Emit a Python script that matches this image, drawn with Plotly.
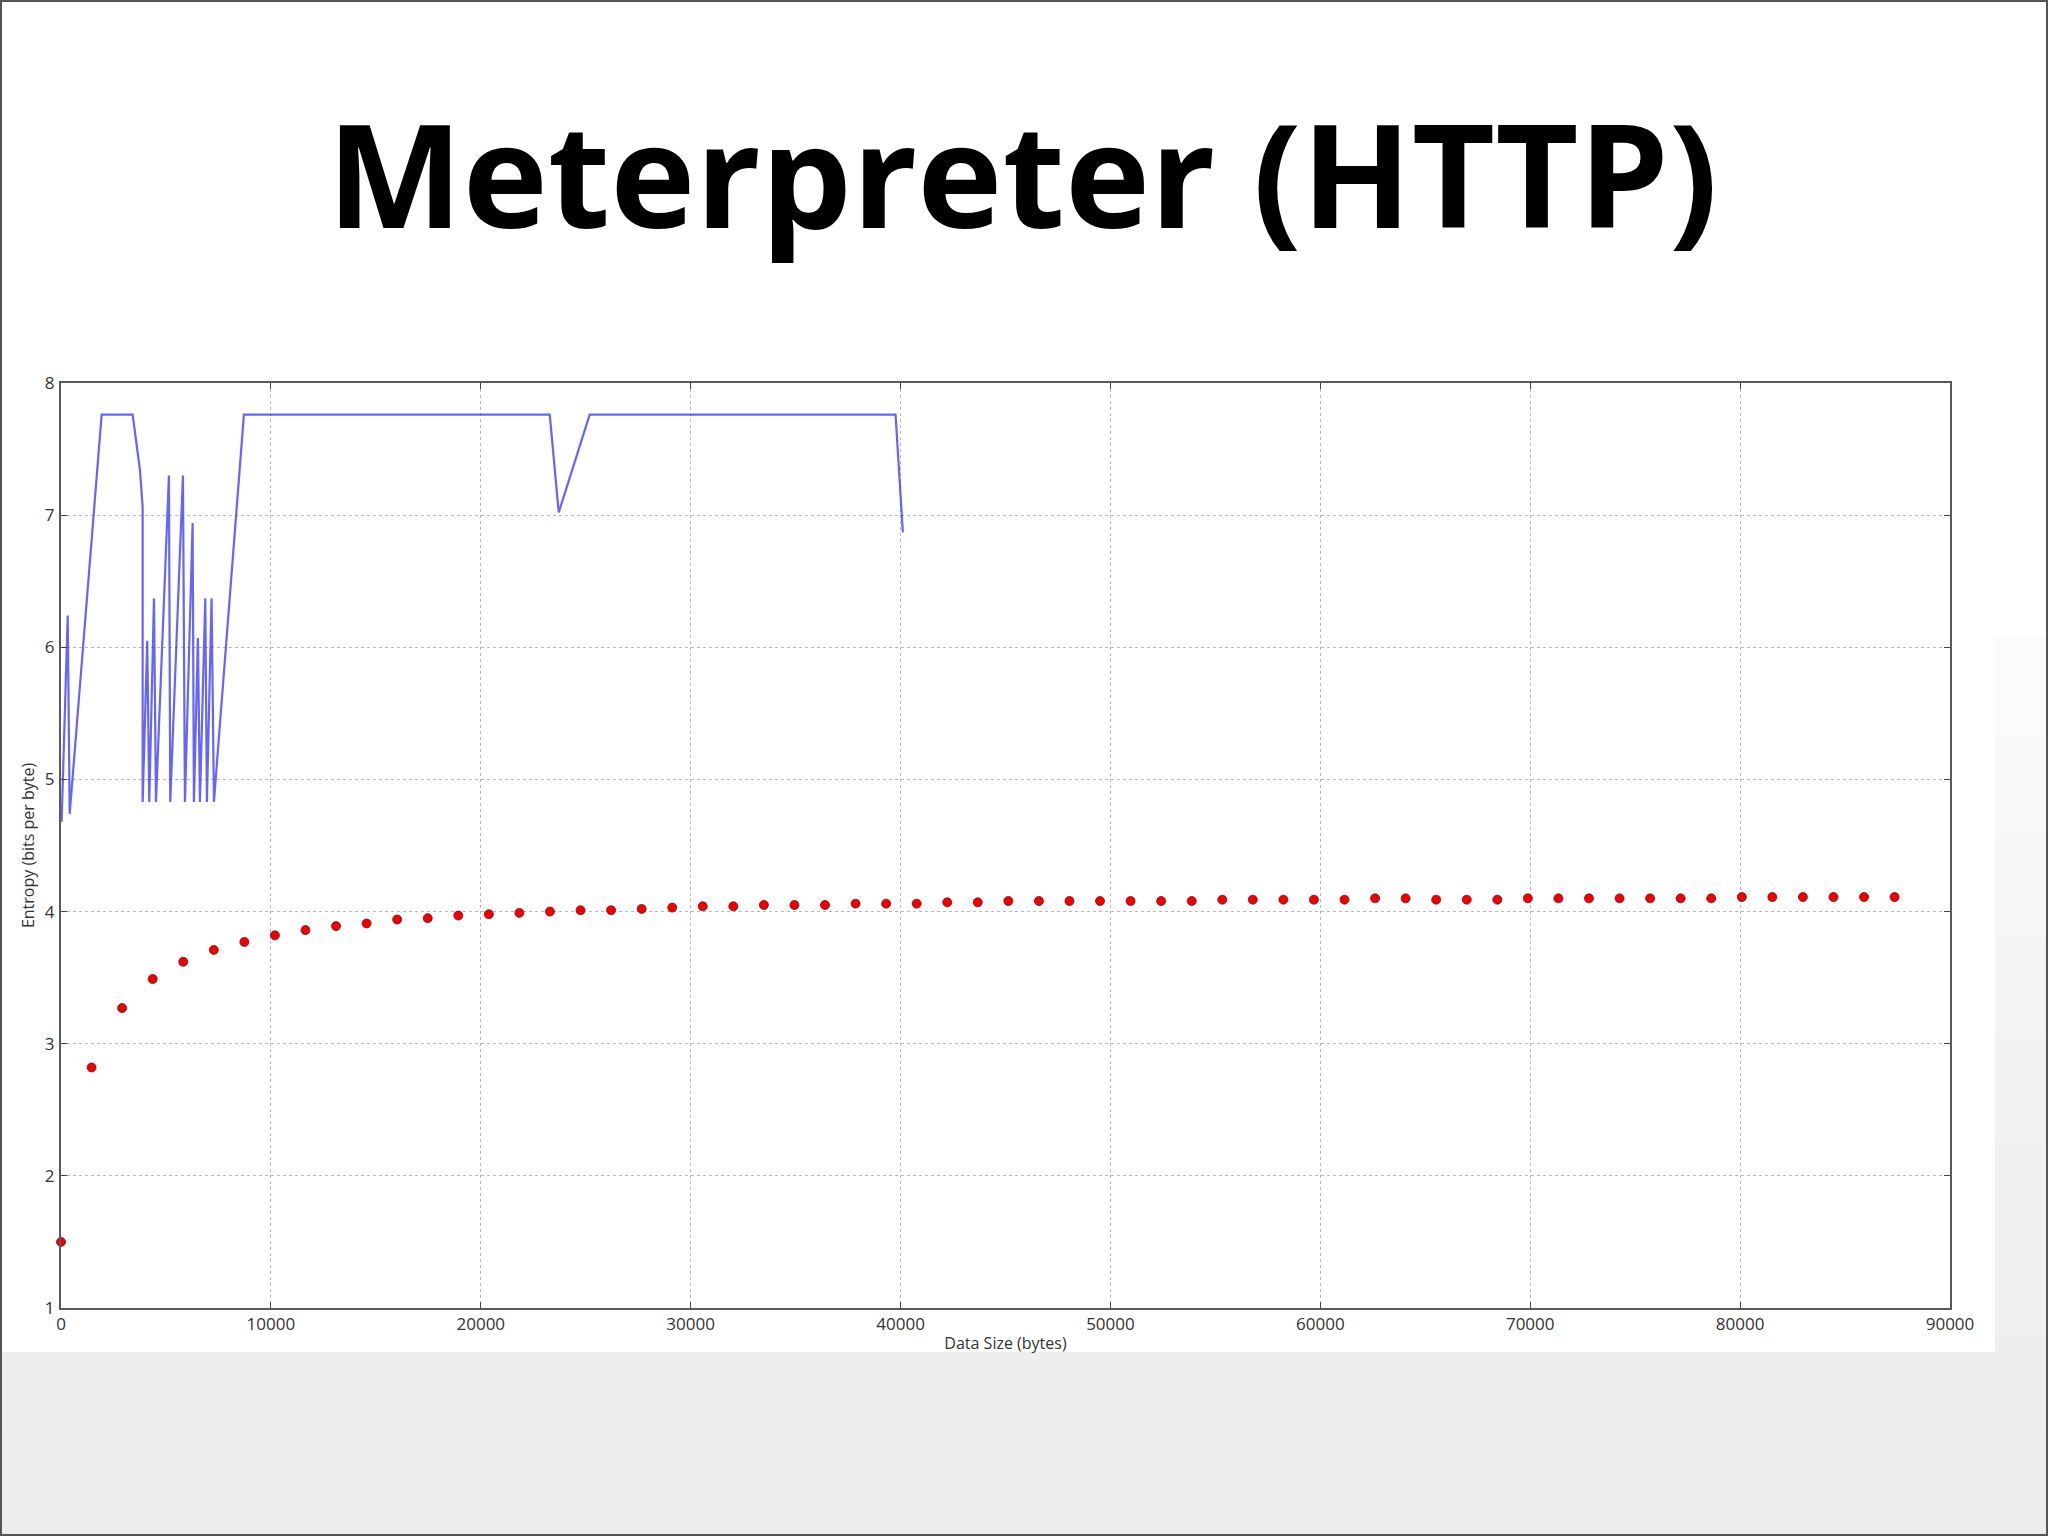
import plotly.graph_objects as go

# ---------------- data ----------------
title_text = "Meterpreter (HTTP)"
x_label = "Data Size (bytes)"
y_label = "Entropy (bits per byte)"

# blue line: per-packet entropy
line_x = [30, 320, 414, 1937, 3413, 3762, 3890, 3890, 4110, 4205, 4430, 4524,
          5143, 5205, 5810, 5905, 6271, 6333, 6524, 6619, 6873, 6952, 7174,
          7286, 8714, 23286, 23714, 25190, 39762, 40110]
line_y = [4.68, 6.24, 4.74, 7.76, 7.76, 7.34, 7.06, 4.83, 6.05, 4.83, 6.37, 4.83,
          7.30, 4.83, 7.30, 4.83, 6.94, 4.83, 6.07, 4.83, 6.37, 4.83, 6.37,
          4.83, 7.76, 7.76, 7.02, 7.76, 7.76, 6.87]

# red dots: cumulative entropy
dot_x = [0, 1456, 2912, 4368, 5824, 7280, 8736, 10192, 11648, 13104, 14560,
         16016, 17472, 18928, 20384, 21840, 23296, 24752, 26208, 27664, 29120,
         30576, 32032, 33488, 34944, 36400, 37856, 39312, 40768, 42224, 43680,
         45136, 46592, 48048, 49504, 50960, 52416, 53872, 55328, 56784, 58240,
         59696, 61152, 62608, 64064, 65520, 66976, 68432, 69888, 71344, 72800,
         74256, 75712, 77168, 78624, 80080, 81536, 82992, 84448, 85904, 87360]
dot_y = [1.50, 2.82, 3.27, 3.49, 3.62, 3.71, 3.77, 3.82, 3.86, 3.89, 3.91,
         3.94, 3.95, 3.97, 3.98, 3.99, 4.00, 4.01, 4.01, 4.02, 4.03,
         4.04, 4.04, 4.05, 4.05, 4.05, 4.06, 4.06, 4.06, 4.07, 4.07,
         4.08, 4.08, 4.08, 4.08, 4.08, 4.08, 4.08, 4.09, 4.09, 4.09,
         4.09, 4.09, 4.10, 4.10, 4.09, 4.09, 4.09, 4.10, 4.10, 4.10,
         4.10, 4.10, 4.10, 4.10, 4.11, 4.11, 4.11, 4.11, 4.11, 4.11]

x_ticks = [0, 10000, 20000, 30000, 40000, 50000, 60000, 70000, 80000, 90000]
y_ticks = [1, 2, 3, 4, 5, 6, 7, 8]

# ---------------- layout geometry (pixels) ----------------
W, H = 2048, 1536
PL, PR, PT, PB = 61, 1950, 383, 1308


def px(xp):
    return (xp - PL) / (PR - PL)


def py(yp):
    return (PB - yp) / (PB - PT)


fig = go.Figure()

fig.add_trace(go.Scatter(
    x=line_x, y=line_y, mode="lines",
    line=dict(color="rgba(50,50,250,0.75)", width=2.2),
    showlegend=False, hoverinfo="skip", cliponaxis=False,
))
fig.add_trace(go.Scatter(
    x=dot_x, y=dot_y, mode="markers",
    marker=dict(color="#ee0000", size=9, line=dict(color="#7a1010", width=0.8)),
    showlegend=False, hoverinfo="skip", cliponaxis=False,
))

shapes = []
# slide background gradient (bottom/right area visible around the pasted chart image)
grads = ["#fbfbfc", "#f8f8f9", "#f6f6f7", "#f4f4f5", "#f2f2f3", "#f0f0f1",
         "#efeff0", "#eeeeef", "#ededee"]
y0 = 637
step = (H - y0) / len(grads)
for i, c in enumerate(grads):
    shapes.append(dict(type="rect", xref="paper", yref="paper",
                       x0=px(0), x1=px(W), y0=py(y0 + (i + 1) * step), y1=py(y0 + i * step),
                       fillcolor=c, line=dict(width=0), layer="below"))
# white chart image
shapes.append(dict(type="rect", xref="paper", yref="paper",
                   x0=px(0), x1=px(1995), y0=py(1352), y1=py(0),
                   fillcolor="white", line=dict(width=0), layer="below"))
# slide border
shapes.append(dict(type="rect", xref="paper", yref="paper",
                   x0=px(1), x1=px(W - 1), y0=py(H - 1), y1=py(1),
                   fillcolor="rgba(0,0,0,0)", line=dict(color="#555555", width=2),
                   layer="above"))

fig.update_layout(
    width=W, height=H,
    margin=dict(l=PL, r=W - PR, t=PT, b=H - PB, autoexpand=False),
    paper_bgcolor="white",
    plot_bgcolor="rgba(0,0,0,0)",
    font=dict(family="Open Sans, DejaVu Sans, sans-serif", color="#333333", size=17),
    shapes=shapes,
    annotations=[dict(
        text="<b>" + title_text + "</b>", xref="paper", yref="paper",
        x=px(1022), y=py(172), xanchor="center", yanchor="middle",
        showarrow=False,
        font=dict(family="Open Sans, sans-serif", size=144, color="#000000"),
    )],
    showlegend=False,
)

axis_common = dict(
    showline=True, linecolor="#5a5a5a", linewidth=2, mirror="ticks",
    ticks="inside", ticklen=6, tickwidth=1, tickcolor="#444444",
    showgrid=True, gridcolor="#b8b8b8", griddash="dot", gridwidth=1,
    zeroline=False, tickfont=dict(size=17, color="#333333"),
)

fig.update_xaxes(
    range=[0, 90000], tickvals=x_ticks, ticktext=[str(v) for v in x_ticks],
    ticklabelstandoff=0,
    title=dict(text=x_label, font=dict(size=16, color="#333333"), standoff=3),
    **axis_common,
)
fig.update_yaxes(
    range=[1, 8], tickvals=y_ticks, ticktext=[str(v) for v in y_ticks],
    ticklabelstandoff=1,
    title=dict(text=y_label, font=dict(size=16, color="#333333"), standoff=6),
    **axis_common,
)

fig.write_html(
    "out.html",
    config={"displayModeBar": False},
    post_script="document.body.style.margin='0';document.body.style.padding='0';",
)
